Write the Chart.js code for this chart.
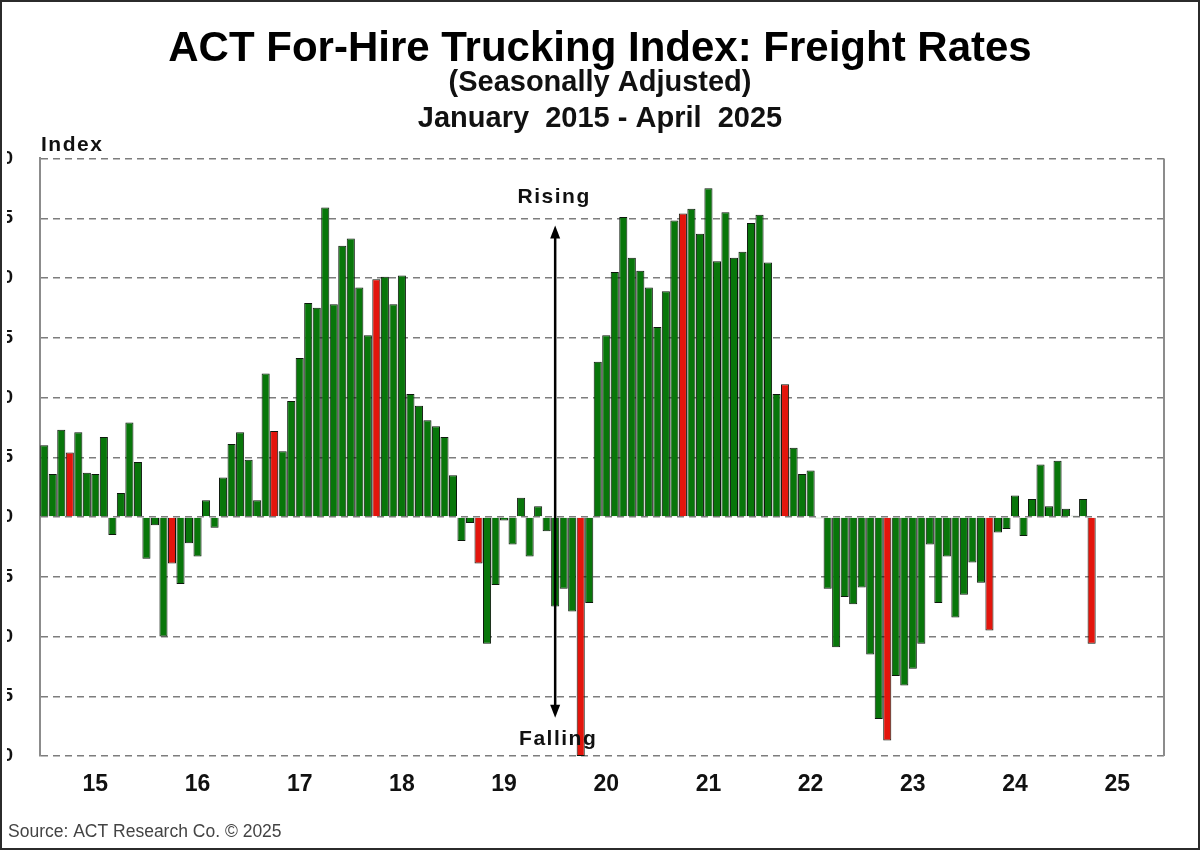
<!DOCTYPE html>
<html>
<head>
<meta charset="utf-8">
<title>ACT For-Hire Trucking Index: Freight Rates</title>
<script src="https://cdn.jsdelivr.net/npm/chart.js@4.4.1/dist/chart.umd.min.js"></script>
<style>
  html, body { margin: 0; padding: 0; background: #fff; }
  #wrap { position: relative; width: 1200px; height: 850px; overflow: hidden; }
  /* the left edge of the original picture is cropped through the tick labels */
  #clip { position: absolute; left: 7px; top: 0; width: 1193px; height: 850px; overflow: hidden; }
  #chartRates { position: absolute; left: -7px; top: 0; }
  #frame { position: absolute; left: 0; top: 0; width: 1200px; height: 850px;
           box-sizing: border-box; border: 2px solid #2b2b2b; pointer-events: none; }
</style>
</head>
<body>
<div id="wrap">
  <div id="clip"><canvas id="chartRates" width="1200" height="850"></canvas></div>
  <div id="frame"></div>
</div>
<script>
const years = ["15", "16", "17", "18", "19", "20", "21", "22", "23", "24", "25"];
const monthNames = ["Jan", "Feb", "Mar", "Apr", "May", "Jun", "Jul", "Aug", "Sep", "Oct", "Nov", "Dec"];
const yTicks = [30, 35, 40, 45, 50, 55, 60, 65, 70, 75, 80];

// monthly index, Jan 2015 - Apr 2025 (one row per year)
const rates = [
  56.0, 53.6, 57.3, 55.4, 57.1, 53.7, 53.6, 56.7, 48.5, 52.0, 57.9, 54.6,
  46.5, 49.3, 40.0, 46.1, 44.4, 47.8, 46.7, 51.4, 49.1, 53.3, 56.1, 57.1,
  54.8, 51.4, 62.0, 57.2, 55.5, 59.7, 63.3, 67.9, 67.5, 75.9, 67.8, 72.7,
  73.3, 69.2, 65.2, 69.9, 70.1, 67.8, 70.2, 60.3, 59.3, 58.1, 57.6, 56.7,
  53.5, 48.0, 49.5, 46.1, 39.4, 44.3, 49.7, 47.7, 51.6, 46.7, 50.9, 48.8,
  42.5, 44.0, 42.1, 30.0, 42.8, 63.0, 65.2, 70.5, 75.1, 71.7, 70.6, 69.2,
  65.9, 68.9, 74.8, 75.4, 75.8, 73.7, 77.5, 71.4, 75.5, 71.7, 72.2, 74.6,
  75.3, 71.3, 60.3, 61.1, 55.8, 53.6, 53.9, 49.9, 44.0, 39.1, 43.3, 42.7,
  44.1, 38.5, 33.1, 31.3, 36.7, 35.9, 37.3, 39.4, 47.7, 42.8, 46.7, 41.6,
  43.5, 46.2, 44.5, 40.5, 48.7, 49.0, 51.8, 48.4, 51.5, 54.4, 50.9, 54.7,
  50.7, 50.1, 51.5, 39.4
];

const baseLine = 50;
const highlightMonth = "Apr";
const arrowMonth = "Jan 20";
const arrowRange = [74.4, 33.2];
const risingAt = 76.3;
const fallingAt = 30.9;

const FONT = "'Liberation Sans', Arial, sans-serif";
const GREEN = "#08760a";
const RED = "#e3150c";

const monthLabels = [];
years.forEach(yr => monthNames.forEach(m => monthLabels.push(m + " " + yr)));

const notes = {
  id: "notes",
  beforeDatasetsDraw(chart) {
    const { ctx, chartArea: a } = chart;
    ctx.save();
    ctx.strokeStyle = "#8c8c8c";
    ctx.lineWidth = 2;
    ctx.beginPath();
    ctx.moveTo(a.right, a.top);
    ctx.lineTo(a.right, a.bottom);
    ctx.stroke();
    ctx.restore();
  },
  afterDatasetsDraw(chart) {
    const { ctx, chartArea: a, scales: { x, y } } = chart;
    const ax = x.getPixelForValue(monthLabels.indexOf(arrowMonth));
    const top = y.getPixelForValue(arrowRange[0]);
    const bot = y.getPixelForValue(arrowRange[1]);
    ctx.save();
    ctx.strokeStyle = "#000";
    ctx.fillStyle = "#000";
    ctx.lineWidth = 2.5;
    ctx.beginPath();
    ctx.moveTo(ax, top + 10);
    ctx.lineTo(ax, bot - 10);
    ctx.stroke();
    ctx.beginPath();
    ctx.moveTo(ax, top);
    ctx.lineTo(ax - 5, top + 13);
    ctx.lineTo(ax + 5, top + 13);
    ctx.closePath();
    ctx.fill();
    ctx.beginPath();
    ctx.moveTo(ax, bot);
    ctx.lineTo(ax - 5, bot - 13);
    ctx.lineTo(ax + 5, bot - 13);
    ctx.closePath();
    ctx.fill();

    ctx.font = "bold 21px " + FONT;
    ctx.letterSpacing = "1.5px";
    ctx.textAlign = "center";
    ctx.textBaseline = "alphabetic";
    ctx.fillStyle = "#111";
    ctx.fillText("Rising", ax - 1, y.getPixelForValue(risingAt));
    ctx.fillText("Falling", ax + 3, y.getPixelForValue(fallingAt));

    ctx.textAlign = "left";
    ctx.fillText("Index", a.left + 1, a.top - 7);

    ctx.letterSpacing = "0px";
    ctx.font = "17.5px " + FONT;
    ctx.fillStyle = "#444";
    ctx.fillText("Source: ACT Research Co. \u00a9 2025", 8, 837);
    ctx.restore();
  }
};

const ctx = document.getElementById("chartRates").getContext("2d");

const chartRates = new Chart(ctx, {
  type: "bar",
  data: {
    labels: monthLabels,
    datasets: [
      {
        label: "Freight Rates",
        data: rates,
        base: baseLine,
        backgroundColor: c => monthLabels[c.dataIndex].startsWith(highlightMonth) ? RED : GREEN,
        borderColor: "#0c180c",
        borderWidth: 1,
        barPercentage: 0.95,
        categoryPercentage: 1.0,
      },
    ],
  },
  options: {
    responsive: false,
    animation: false,
    devicePixelRatio: 1,
    layout: { padding: 0 },
    plugins: {
      legend: { display: false },
      tooltip: { enabled: false },
      title: {
        display: true,
        text: "ACT For-Hire Trucking Index: Freight Rates",
        color: "#000",
        font: { family: FONT, size: 42, weight: "bold", lineHeight: 0.68 },
        padding: { top: 35, bottom: 0 },
      },
      subtitle: {
        display: true,
        text: ["(Seasonally Adjusted)", "January  2015 - April  2025"],
        color: "#111",
        font: { family: FONT, size: 29, weight: "bold", lineHeight: 1.24 },
        padding: { top: 1, bottom: 22 },
      },
    },
    scales: {
      x: {
        type: "category",
        offset: true,
        grid: { display: false },
        border: { display: false },
        afterFit: s => { s.height = 94; },
        ticks: {
          autoSkip: false,
          maxRotation: 0,
          minRotation: 0,
          padding: 7,
          color: "#111",
          font: { family: FONT, size: 23, weight: "bold" },
          callback: (v, i) => (i % 12 === 6 ? years[Math.floor(i / 12)] : ""),
        },
      },
      y: {
        min: 30,
        max: 80,
        afterBuildTicks: s => { s.ticks = yTicks.map(v => ({ value: v })); },
        afterFit: s => { s.width = 40; },
        grid: { color: "#7d7d7d", lineWidth: 1.4, drawTicks: false },
        border: { display: true, color: "#8c8c8c", width: 2, dash: [7, 5] },
        ticks: {
          padding: 27,
          color: "#111",
          font: { family: FONT, size: 19, weight: "bold" },
        },
      },
      yRight: {
        position: "right",
        display: true,
        afterFit: s => { s.width = 36; },
        grid: { display: false },
        border: { display: false },
        ticks: { display: false },
      },
    },
  },
  plugins: [notes],
});
</script>
</body>
</html>
